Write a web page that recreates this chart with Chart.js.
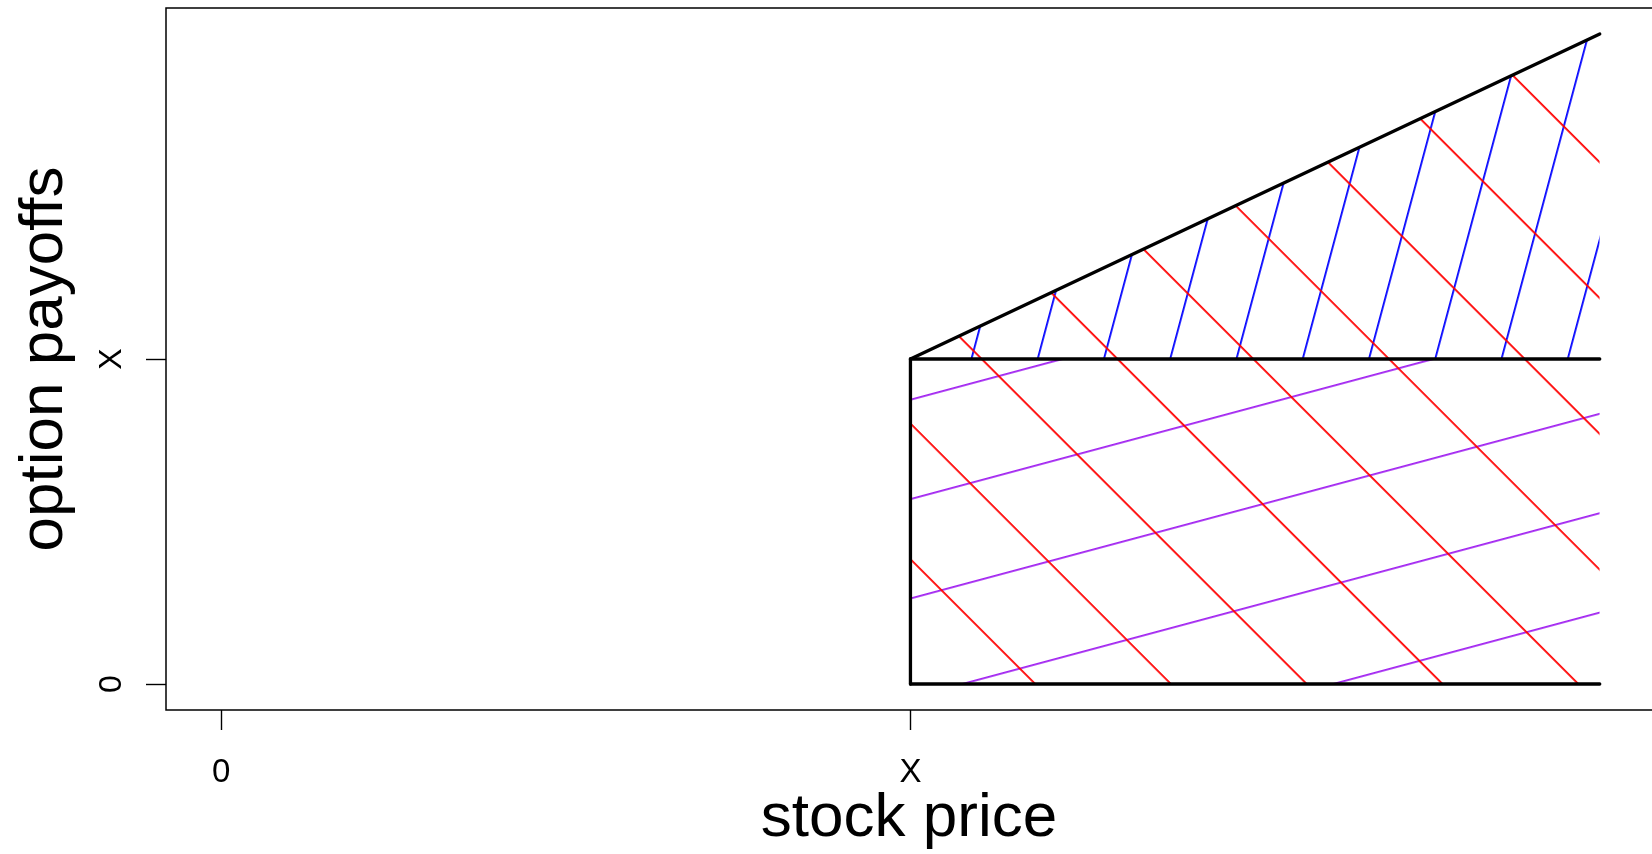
<!DOCTYPE html>
<html lang="en">
<head>
  <meta charset="UTF-8">
  <title>Option payoffs</title>
  <script src="https://cdn.jsdelivr.net/npm/chart.js"></script>
  <style>
    html, body { margin: 0; padding: 0; background: #fff; overflow: hidden; }
    #wrap { width: 1652px; height: 854px; }
  </style>
</head>
<body>
  <div id="wrap"><canvas id="payoffChart"></canvas></div>

  <script>
    // stock prices where the payoff lines start / end (X = 1)
    const priceKnots = [1, 2];
    // value of the stock (upper edge of the hatched area)
    const stockLine = [1, 2];
    // strike level X and the zero level
    const strikeLine = [1, 1];
    const zeroLine = [0, 0];
    // axis ticks
    const xTickValues = [0, 1];
    const xTickLabels = ['0', 'X'];
    const yTickValues = [0, 1];
    const yTickLabels = ['0', 'X'];

    const pts = (xs, ys) => xs.map((x, i) => ({ x: x, y: ys[i] }));
    // left edge of the box at the strike price
    const strikeEdge = [
      { x: priceKnots[0], y: zeroLine[0] },
      { x: priceKnots[0], y: strikeLine[0] }
    ];

    // hatch fill like R's density/angle: a line pattern rotated into place
    function hatch(color, angle, gap, ax, ay) {
      return function (ctx) {
        const chart = ctx.chart;
        if (!chart.chartArea || !chart.scales.x) return 'rgba(0,0,0,0)';
        const tile = document.createElement('canvas');
        tile.width = 8;
        tile.height = gap;
        const t = tile.getContext('2d');
        t.fillStyle = color;
        t.fillRect(0, 0, 8, 1.8);
        const pat = chart.ctx.createPattern(tile, 'repeat');
        const px = chart.scales.x.getPixelForValue(ax);
        const py = chart.scales.y.getPixelForValue(ay);
        pat.setTransform(new DOMMatrix().translate(px, py).rotate(angle).translate(0, -0.9));
        return pat;
      };
    }

    // R's box() around the plot region (its right side falls off the page)
    const plotBox = {
      id: 'plotBox',
      afterDraw(chart) {
        const { left, top, right, bottom } = chart.chartArea;
        const c = chart.ctx;
        c.save();
        c.strokeStyle = '#000';
        c.lineWidth = 1.5;
        c.beginPath();
        c.moveTo(right + 5, top);
        c.lineTo(left, top);
        c.lineTo(left, bottom);
        c.lineTo(right + 5, bottom);
        c.stroke();
        c.restore();
      }
    };

    // y tick labels in R are drawn parallel to the axis
    const rotatedYLabels = {
      id: 'rotatedYLabels',
      afterDraw(chart) {
        const c = chart.ctx;
        const ys = chart.scales.y;
        const size = 32;
        c.save();
        c.fillStyle = '#000';
        c.font = size + 'px "Liberation Sans", Arial, sans-serif';
        c.textAlign = 'center';
        c.textBaseline = 'alphabetic';
        yTickValues.forEach((v, i) => {
          c.save();
          c.translate(109.5, ys.getPixelForValue(v));
          c.rotate(-Math.PI / 2);
          c.fillText(yTickLabels[i], 0, 0.358 * size);
          c.restore();
        });
        c.restore();
      }
    };

    const black = { borderColor: '#000', borderWidth: 3.3, borderCapStyle: 'round', borderJoinStyle: 'round', fill: false };
    const noLine = { borderColor: 'rgba(0,0,0,0)', borderWidth: 0 };

    Chart.defaults.font.family = '"Liberation Sans", Arial, sans-serif';
    Chart.defaults.color = '#000';

    const ctx = document.getElementById('payoffChart').getContext('2d');
    const payoffChart = new Chart(ctx, {
      type: 'line',
      data: {
        datasets: [
          Object.assign({ data: pts(priceKnots, stockLine) }, black),
          Object.assign({ data: pts(priceKnots, strikeLine) }, black),
          Object.assign({ data: pts(priceKnots, zeroLine) }, black),
          Object.assign({ data: strikeEdge }, black),
          Object.assign({ data: pts(priceKnots, stockLine), fill: 'origin',
            backgroundColor: hatch('#FF0000', 45, 96, 1.575, 0) }, noLine),
          Object.assign({ data: pts(priceKnots, stockLine), fill: 1,
            backgroundColor: hatch('#0000FF', -75, 64, 1.569, 1) }, noLine),
          Object.assign({ data: pts(priceKnots, strikeLine), fill: 'origin',
            backgroundColor: hatch('#A020F0', -15, 96, 1, 0.569) }, noLine)
        ]
      },
      options: {
        responsive: true,
        maintainAspectRatio: false,
        animation: false,
        elements: { point: { radius: 0, hoverRadius: 0 }, line: { tension: 0 } },
        plugins: { legend: { display: false }, tooltip: { enabled: false } },
        layout: { padding: { top: 8 } },
        scales: {
          x: {
            type: 'linear', position: 'bottom', min: -0.08, max: 2.0758,
            afterBuildTicks: s => { s.ticks = xTickValues.map(v => ({ value: v })); },
            afterFit: s => { s.height = 144; },
            ticks: {
              callback: v => xTickLabels[xTickValues.indexOf(v)],
              font: { size: 33 }, color: '#000', padding: 23, maxRotation: 0, autoSkip: false
            },
            grid: { drawOnChartArea: false, drawTicks: true, tickLength: 20, tickColor: '#000', tickWidth: 1.4 },
            border: { display: false },
            title: { display: true, text: 'stock price', color: '#000', font: { size: 62, lineHeight: 1 }, padding: { top: 0, bottom: 4.2 } }
          },
          y: {
            type: 'linear', position: 'left', min: -0.08, max: 2.08,
            afterBuildTicks: s => { s.ticks = yTickValues.map(v => ({ value: v })); },
            afterFit: s => { s.width = 166; },
            ticks: { display: false },
            grid: { drawOnChartArea: false, drawTicks: true, tickLength: 20, tickColor: '#000', tickWidth: 1.4 },
            border: { display: false },
            title: { display: true, text: 'option payoffs', color: '#000', font: { size: 62 }, padding: { top: 7.5, bottom: 0 } }
          }
        }
      },
      plugins: [plotBox, rotatedYLabels]
    });
  </script>
</body>
</html>
